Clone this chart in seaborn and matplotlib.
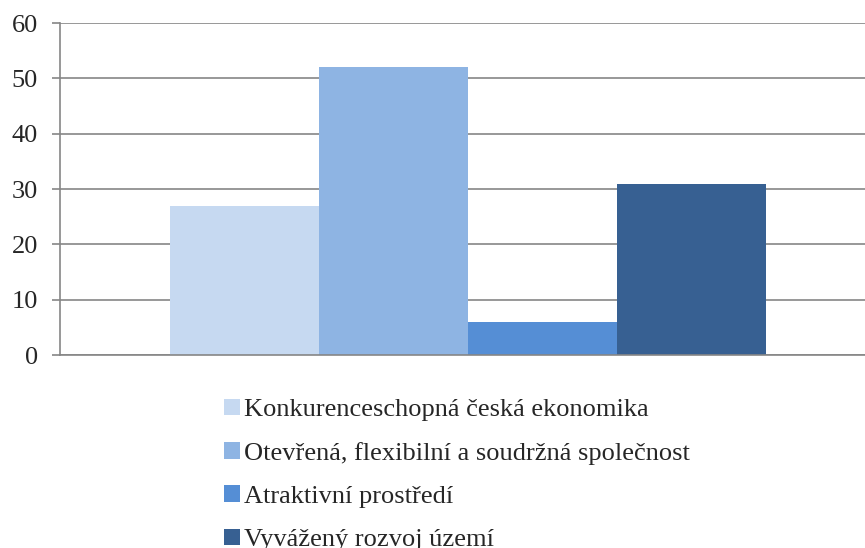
import matplotlib
matplotlib.use("Agg")
import matplotlib.pyplot as plt
import seaborn as sns
import pandas as pd

# data
series = [
    "Konkurenceschopná česká ekonomika",
    "Otevřená, flexibilní a soudržná společnost",
    "Atraktivní prostředí",
    "Vyvážený rozvoj území",
]
values = [27, 52, 6, 31]
colors = ["#C6D9F1", "#8EB4E3", "#558ED5", "#376092"]
yticks = [0, 10, 20, 30, 40, 50, 60]

df = pd.DataFrame({"group": [""] * len(series), "series": series, "value": values})

sns.set_theme(style="white")
plt.rcParams["font.family"] = ["Liberation Serif", "DejaVu Serif"]

fig = plt.figure(figsize=(8.65, 5.48), dpi=100)
ax = fig.add_axes([0.0694, 0.352, 0.9306, 0.606])

sns.barplot(data=df, x="group", y="value", hue="series", hue_order=series,
            palette=colors, width=0.74, saturation=1, linewidth=0,
            edgecolor="none", ax=ax)

ax.set_ylim(0, 60)
ax.set_xlim(-0.5068, 0.4932)
ax.set_yticks(yticks)
ax.set_yticklabels([str(t) for t in yticks], fontsize=19)
ax.set_xticks([])
ax.set_xlabel("")
ax.set_ylabel("")
ax.yaxis.grid(True, color="#868686", linewidth=1.2)
ax.set_axisbelow(True)
ax.tick_params(axis="y", left=True, length=6, width=1.2, color="#868686", pad=10)
for side in ["top", "right"]:
    ax.spines[side].set_visible(False)
for side in ["left", "bottom"]:
    ax.spines[side].set_color("#868686")
    ax.spines[side].set_linewidth(1.2)

handles, labels = ax.get_legend_handles_labels()
ax.get_legend().remove()
fig.legend(handles, labels, loc="upper left", bbox_to_anchor=(0.2465, 0.292),
           frameon=False, fontsize=19, handlelength=0.6, handleheight=0.6,
           handletextpad=0.15, labelspacing=0.78, borderaxespad=0)

fig.savefig("out.png", dpi=100)
